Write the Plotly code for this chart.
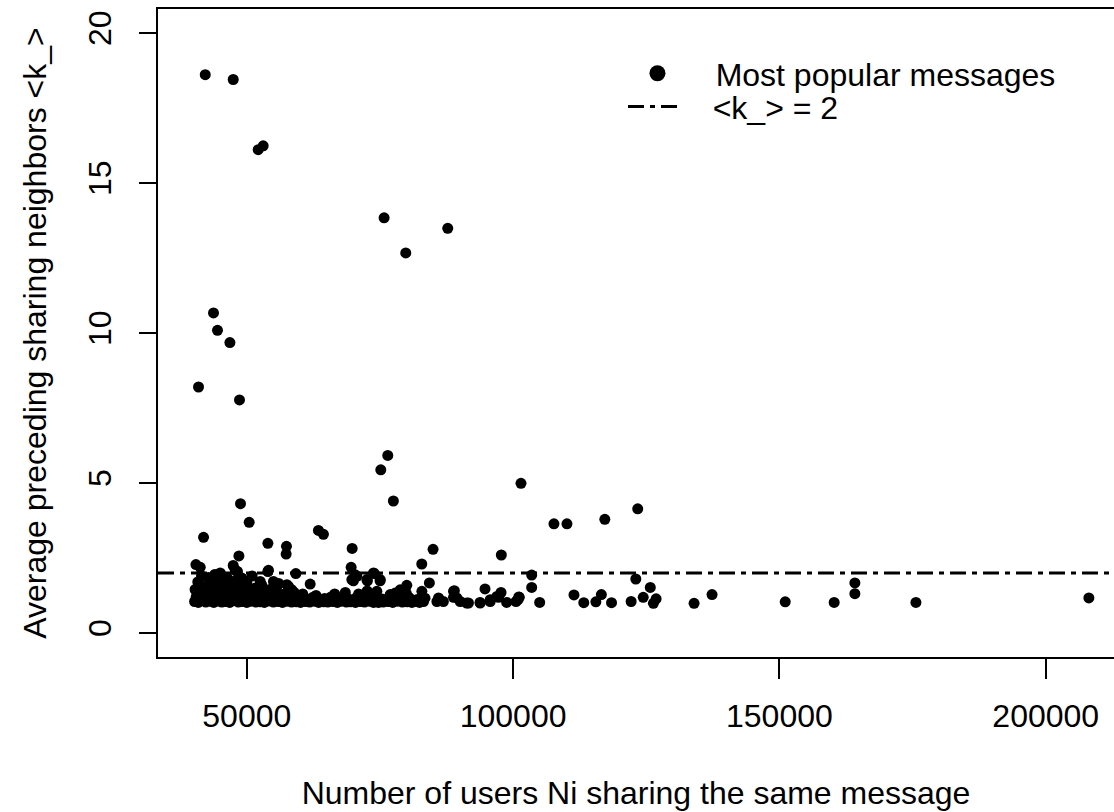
import plotly.graph_objects as go

# Number of users Ni sharing the same message
users = [
    # high outliers
    42200, 47450, 52140, 53080, 75780, 79850, 87730, 43750, 44500, 46830, 40940, 48630,
    76470, 75160, 77520, 101480, 48820, 50450, 41880, 63450, 64390, 53960, 57450, 57390,
    69780, 84970, 97790, 48520, 40450, 41260, 47450, 48250, 82850, 69590, 53960, 59210,
    73960, 103490, 103490, 104990, 84280, 80040, 72650, 75030, 70020, 70660, 61900,
    # sparse right part
    97730, 94730, 88970, 101160, 100550, 98790, 93790, 91290, 86910, 83460,
    107670, 110110, 117220, 123400, 100920, 101070, 111430, 113270, 115540, 116570,
    118480, 122160, 123040, 124430, 125760, 126850, 126340, 133980, 137350, 151090,
    160280, 164170, 164170, 175630, 208100,
    # mid-level scatter
    47820, 54075, 45010, 70350, 69730, 72540, 73790, 75050, 74420, 57830, 58460,
    78800, 77860, 82870, 83180, 86000, 88810, 89440, 91620, 93820, 95700, 96950,
    43750, 45625, 49080, 50020, 52520, 55010, 55640, 40940, 46880, 52200, 57530,
    97260, 95700, 90070, 88810, 85700, 82430, 79930, 78800, 76920, 74730,
    # dense band, lower row
    40200, 40900, 41600, 42300, 43100, 43800, 44600, 45300, 46100, 46800, 47600, 48400,
    49200, 50000, 50800, 51700, 52500, 53300, 54200, 55000, 55900, 56700, 57600, 58400,
    59300, 60100, 61000, 61800, 62700, 63500, 64400, 65200, 66100, 67000, 67800, 68700,
    69500, 70400, 71300, 72100, 73000, 73800, 74700, 75600, 76500, 77400, 78300, 79200,
    80100, 81000, 82000,
    # dense band, upper row
    40500, 41200, 42000, 42700, 43400, 44200, 45000, 45700, 46500, 47200, 48000, 48800,
    49600, 50400, 51300, 52100, 53000, 53800, 54700, 55500, 56300, 57200, 58000, 59000,
    60000, 61200, 62300, 63400, 64600, 65800, 67000, 68200, 69400, 70600, 71800, 73000,
    74200, 75400, 76600, 77800, 79000, 80500, 82000,
    # cloud just below the reference line
    40300, 40800, 41100, 41500, 41900, 42400, 42800, 43200, 43600, 44000, 44300, 44800,
    45200, 45900, 46300, 46700, 47400, 47900, 48600, 49300, 50500, 51000, 51600, 52800,
    53500, 54300, 55200, 56000, 57000, 58900, 60500, 63000, 66500, 68500, 71000, 72600,
]

# Average preceding sharing neighbors <k_>
avg_k = [
    18.61, 18.45, 16.11, 16.24, 13.84, 12.67, 13.49, 10.67, 10.09, 9.68, 8.20, 7.77,
    5.92, 5.44, 4.40, 4.99, 4.31, 3.69, 3.19, 3.42, 3.29, 2.99, 2.89, 2.63,
    2.82, 2.79, 2.60, 2.57, 2.28, 2.19, 2.25, 2.05, 2.30, 2.19, 2.05, 1.98,
    1.98, 1.93, 1.52, 1.02, 1.67, 1.59, 1.74, 1.74, 1.74, 1.89, 1.63,
    1.35, 1.47, 1.41, 1.19, 1.05, 1.02, 1.02, 1.00, 1.05, 1.16,
    3.64, 3.64, 3.79, 4.14, 1.11, 1.20, 1.27, 1.01, 1.04, 1.28,
    1.01, 1.05, 1.80, 1.19, 1.52, 1.14, 0.99, 0.99, 1.28, 1.04,
    1.02, 1.67, 1.31, 1.02, 1.17,
    2.10, 2.09, 2.00, 1.94, 1.78, 1.78, 2.00, 1.78, 1.39, 1.55, 1.44,
    1.44, 1.33, 1.39, 1.05, 1.17, 1.39, 1.17, 1.00, 1.00, 1.11, 1.22,
    1.72, 1.78, 1.83, 1.67, 1.72, 1.72, 1.55, 1.55, 1.50, 1.39, 1.61,
    1.19, 1.05, 1.05, 1.19, 1.05, 1.02, 1.33, 1.19, 1.28, 1.02,
    1.05, 1.02, 1.08, 1.03, 1.06, 1.02, 1.07, 1.03, 1.05, 1.02, 1.08, 1.03,
    1.05, 1.02, 1.06, 1.03, 1.04, 1.02, 1.07, 1.03, 1.05, 1.02, 1.06, 1.03,
    1.04, 1.02, 1.05, 1.03, 1.06, 1.02, 1.04, 1.03, 1.05, 1.02, 1.06, 1.03,
    1.04, 1.02, 1.05, 1.03, 1.06, 1.02, 1.04, 1.03, 1.05, 1.02, 1.06, 1.03,
    1.04, 1.02, 1.05,
    1.20, 1.15, 1.25, 1.18, 1.30, 1.15, 1.22, 1.12, 1.28, 1.16, 1.20, 1.14,
    1.25, 1.15, 1.18, 1.12, 1.20, 1.15, 1.22, 1.13, 1.17, 1.12, 1.20, 1.14,
    1.16, 1.12, 1.18, 1.13, 1.15, 1.20, 1.13, 1.16, 1.12, 1.18, 1.14, 1.15,
    1.20, 1.13, 1.16, 1.22, 1.14, 1.18, 1.12,
    1.45, 1.70, 1.35, 1.90, 1.55, 1.40, 1.85, 1.60, 1.45, 1.95, 1.35, 1.70,
    1.50, 1.40, 1.85, 1.60, 1.35, 1.75, 1.45, 1.60, 1.40, 1.90, 1.50, 1.60,
    1.30, 1.45, 1.35, 1.65, 1.30, 1.35, 1.30, 1.25, 1.30, 1.35, 1.30, 1.40,
]

reference_k = 2
x_ticks = [50000, 100000, 150000, 200000]
y_ticks = [0, 5, 10, 15, 20]

FONT = "Liberation Sans, Arial, sans-serif"
NB = "\u00a0"

fig = go.Figure()
fig.add_trace(go.Scatter(
    x=users, y=avg_k, mode="markers",
    marker=dict(size=11, color="black", line=dict(width=0)),
    showlegend=False, hoverinfo="x+y",
))
# legend entry for the points (no marks drawn)
fig.add_trace(go.Scatter(
    x=[None], y=[None], mode="markers",
    marker=dict(size=16, color="black", line=dict(width=0)),
    name=NB * 3 + "Most popular messages", legend="legend",
))
fig.add_shape(
    type="line", xref="paper", yref="y", x0=0, x1=1, y0=reference_k, y1=reference_k,
    line=dict(color="black", width=3, dash="16px,6px,5px,6px"),
    showlegend=True, name=NB * 3 + "&lt;k_&gt; = 2", legend="legend2", layer="above",
)

axis_common = dict(
    showgrid=False, zeroline=False, showline=True, linecolor="black", linewidth=2,
    ticks="outside", tickcolor="black", tickwidth=2,
    tickfont=dict(family=FONT, size=32, color="black"),
)

legend_common = dict(
    xanchor="left", yanchor="top", bgcolor="rgba(0,0,0,0)", borderwidth=0,
    itemwidth=53, font=dict(family=FONT, size=32, color="black"),
)

fig.update_layout(
    width=1114, height=812, autosize=False,
    margin=dict(l=158, r=0, t=9, b=155, pad=0),
    paper_bgcolor="white", plot_bgcolor="white",
    font=dict(family=FONT, size=32, color="black"),
    xaxis=dict(
        range=[33330, 212820], tickvals=x_ticks, tickformat="d", ticklen=20,
        mirror=True, ticklabelstandoff=10,
        title=dict(text="Number of users Ni sharing the same message",
                   font=dict(family=FONT, size=32, color="black"), standoff=48),
        **axis_common,
    ),
    yaxis=dict(
        range=[-0.8, 20.8], tickvals=y_ticks, tickangle=-90, ticklen=17,
        ticklabelstandoff=15,
        title=dict(text="Average preceding sharing neighbors &lt;k_&gt;",
                   font=dict(family=FONT, size=32, color="black"), standoff=26),
        **axis_common,
    ),
    legend=dict(x=0.4895, y=0.943, **legend_common),
    legend2=dict(x=0.4864, y=0.8916, **legend_common),
)

fig.write_html("out.html")
